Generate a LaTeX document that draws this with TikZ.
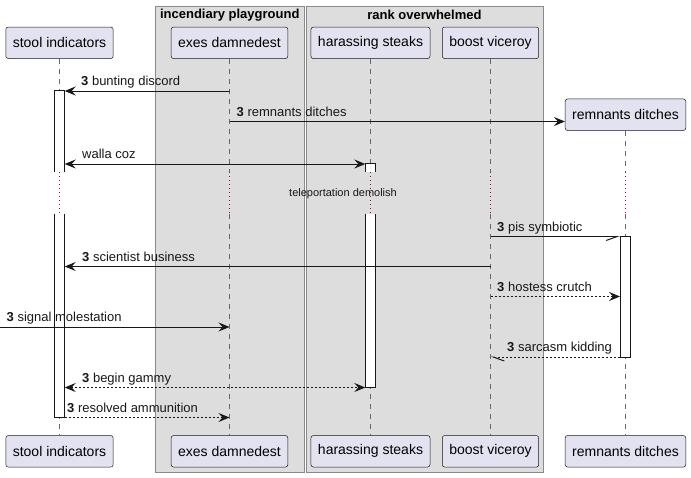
\documentclass[tikz,border=0pt]{standalone}
\usepackage{fontspec}
\setmainfont{Liberation Sans}
\usetikzlibrary{arrows.meta,positioning,calc}
\definecolor{seqLine}{HTML}{181818}
\definecolor{seqHead}{HTML}{E2E2F0}
\definecolor{seqGroup}{HTML}{DDDDDD}
\definecolor{seqFrame}{HTML}{8A8A8A}
\definecolor{seqDelay}{HTML}{A80036}

\begin{document}
\begin{tikzpicture}[
    x=1pt, y=-1pt, >={Stealth[length=11pt,width=9pt,inset=4pt]},
    head/.style={rectangle, rounded corners=2.5pt, draw=seqLine, line width=0.5pt, fill=seqHead, minimum height=31.6pt, inner xsep=7pt, font=\fontsize{14}{16}\selectfont},
    grp/.style={draw=seqFrame, line width=1pt, fill=seqGroup},
    grptitle/.style={font=\bfseries\fontsize{13}{15}\selectfont, inner sep=0pt},
    life/.style={draw=seqLine!65, line width=0.5pt, dash pattern=on 5pt off 5pt},
    dly/.style={draw=seqDelay, line width=0.8pt, dash pattern=on 1pt off 3pt},
    actv/.style={rectangle, fill=white, minimum width=10pt, inner sep=0pt},
    bar/.style={draw=seqLine, line width=1pt},
    msg/.style={->, draw=seqLine, line width=1pt},
    ret/.style={msg, dash pattern=on 2pt off 2pt},
    half/.style={-{Straight Barb[harpoon,swap,length=11pt,width=8pt]}, draw=seqLine, line width=1pt},
    halfret/.style={-{Straight Barb[harpoon,length=11pt,width=8pt]}, draw=seqLine, line width=1pt, dash pattern=on 2pt off 2pt},
    lab/.style={font=\fontsize{13}{15}\selectfont, anchor=base west, inner sep=0pt, text=seqLine},
    dlytxt/.style={font=\fontsize{11}{13}\selectfont, inner sep=0pt, text=seqLine},
  ]
  \useasboundingbox (0,0) rectangle (691,477);
  % groups
  \draw[grp] (155,6) rectangle (304.5,472.5);
  \draw[grp] (306,6) rectangle (543,472.5);
  \node[grptitle] (incTitle) at (229.75,15) {incendiary playground};
  \node[grptitle] (rankTitle) at (424.5,15) {rank overwhelmed};
  % participants
  \node[head] (stoolT) at (59.5,42.8) {stool indicators};
  \node[head] (exesT) at (229.5,42.8) {exes damnedest};
  \node[head] (harassT) at (370.5,42.8) {harassing steaks};
  \node[head] (boostT) at (490.5,42.8) {boost viceroy};
  \node[head] (remnT) at (625.5,114.7) {remnants ditches};
  \node[head] (stoolB) at (59.5,451.3) {stool indicators};
  \node[head] (exesB) at (229.5,451.3) {exes damnedest};
  \node[head] (harassB) at (370.5,451.3) {harassing steaks};
  \node[head] (boostB) at (490.5,451.3) {boost viceroy};
  \node[head] (remnB) at (625.5,451.3) {remnants ditches};
  % rows
  \coordinate (dTop) at (0,172);
  \coordinate (dBot) at (0,214);
  \coordinate (m1) at (0,91);
  \coordinate (m2) at (0,121.5);
  \coordinate (m3) at (0,164);
  \coordinate (m4) at (0,236.5);
  \coordinate (m5) at (0,266.5);
  \coordinate (m6) at (0,296.5);
  \coordinate (m7) at (0,327);
  \coordinate (m8) at (0,357);
  \coordinate (m9) at (0,387.5);
  \coordinate (m10) at (0,417.5);
  % lifelines
  \draw[life] (stoolT) -- (stoolT |- dTop);
  \draw[dly] (stoolT |- dTop) -- (stoolT |- dBot);
  \draw[life] (stoolT |- dBot) -- (stoolB);
  \draw[life] (exesT) -- (exesT |- dTop);
  \draw[dly] (exesT |- dTop) -- (exesT |- dBot);
  \draw[life] (exesT |- dBot) -- (exesB);
  \draw[life] (harassT) -- (harassT |- dTop);
  \draw[dly] (harassT |- dTop) -- (harassT |- dBot);
  \draw[life] (harassT |- dBot) -- (harassB);
  \draw[life] (boostT) -- (boostT |- dTop);
  \draw[dly] (boostT |- dTop) -- (boostT |- dBot);
  \draw[life] (boostT |- dBot) -- (boostB);
  \draw[life] (remnT) -- (remnT |- dTop);
  \draw[dly] (remnT |- dTop) -- (remnT |- dBot);
  \draw[life] (remnT |- dBot) -- (remnB);
  % activations
  \node[actv, minimum height=81pt] (stoolActA) at (59.5,131.5) {};
  \node[actv, minimum height=203.5pt] (stoolActB) at (59.5,315.75) {};
  \draw[bar] (stoolActA.south west) -- (stoolActA.north west) -- (stoolActA.north east) -- (stoolActA.south east);
  \draw[bar] (stoolActB.north west) -- (stoolActB.south west) -- (stoolActB.south east) -- (stoolActB.north east);
  \node[actv, minimum height=8pt] (harassActA) at (370.5,168) {};
  \node[actv, minimum height=173.5pt] (harassActB) at (370.5,300.75) {};
  \draw[bar] (harassActA.south west) -- (harassActA.north west) -- (harassActA.north east) -- (harassActA.south east);
  \draw[bar] (harassActB.north west) -- (harassActB.south west) -- (harassActB.south east) -- (harassActB.north east);
  \node[actv, bar, minimum height=120.5pt] (remnAct) at (625.5,296.75) {};
  % messages
  \draw[msg] (exesT |- m1) -- (stoolActA.east |- m1);
  \node[lab] (l1) at (81,85.5) {\textbf{3} bunting discord};
  \draw[msg] (exesT |- m2) -- (remnT.west |- m2);
  \node[lab] (l2) at (236.5,116) {\textbf{3} remnants ditches};
  \draw[msg, <->] (stoolActA.east |- m3) -- (harassActA.west |- m3);
  \node[lab] (l3) at (82,158.5) {walla coz};
  \node[dlytxt] (delayTxt) at (343,194) {teleportation demolish};
  \draw[half] (boostT |- m4) -- (remnAct.west |- m4);
  \node[lab] (l4) at (497,231) {\textbf{3} pis symbiotic};
  \draw[msg] (boostT |- m5) -- (stoolActB.east |- m5);
  \node[lab] (l5) at (82,261) {\textbf{3} scientist business};
  \draw[ret] (boostT |- m6) -- (remnAct.west |- m6);
  \node[lab] (l6) at (497,291) {\textbf{3} hostess crutch};
  \draw[msg] (m7) -- (exesT |- m7);
  \node[lab] (l7) at (6.5,321.5) {\textbf{3} signal molestation};
  \draw[halfret] (remnAct.west |- m8) -- (boostT |- m8);
  \node[lab] (l8) at (507,351.5) {\textbf{3} sarcasm kidding};
  \draw[ret, <->] (stoolActB.east |- m9) -- (harassActB.west |- m9);
  \node[lab] (l9) at (82,382) {\textbf{3} begin gammy};
  \draw[ret] (stoolActB.east |- m10) -- (exesT |- m10);
  \node[lab] (l10) at (67,412) {\textbf{3} resolved ammunition};
\end{tikzpicture}
\end{document}
